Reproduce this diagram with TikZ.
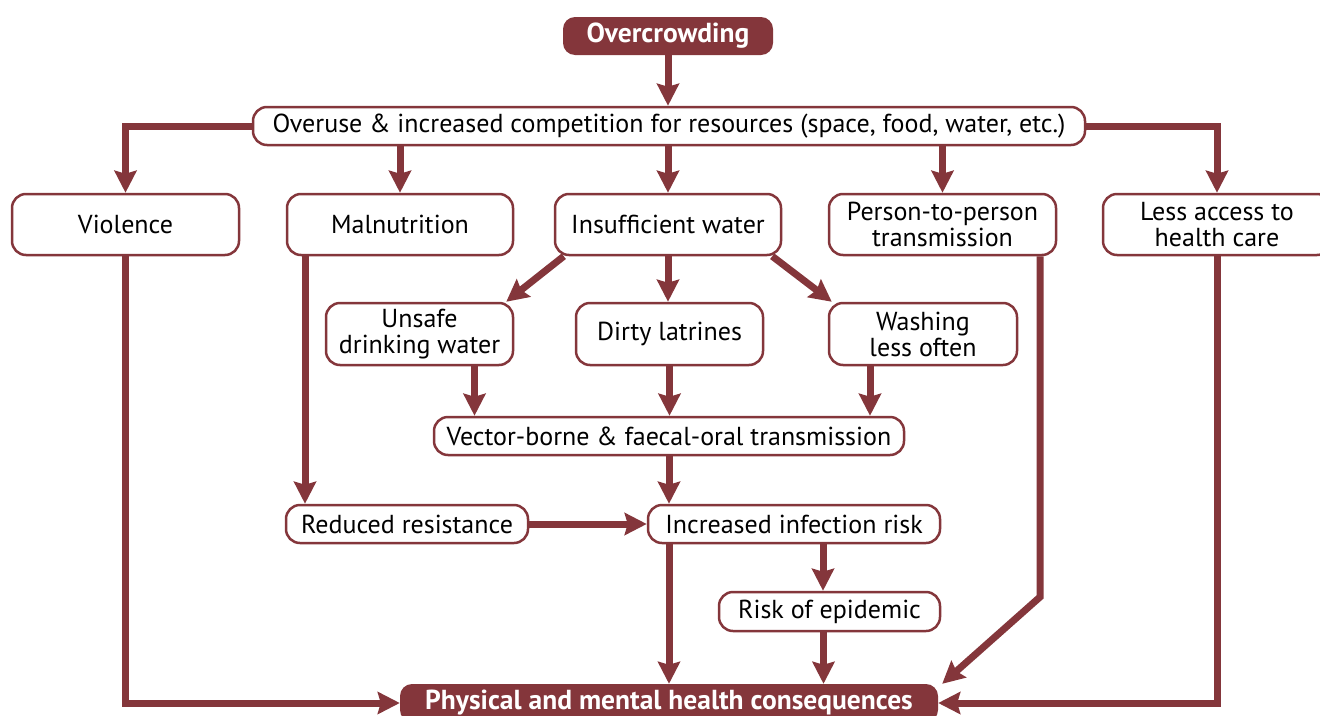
\documentclass[tikz,border=0pt]{standalone}
\usepackage{fontspec}
\setmainfont{PT Sans}
\usetikzlibrary{arrows.meta}
\definecolor{wine}{RGB}{132,54,59}
\tikzset{
  box/.style={draw=wine,line width=2.5pt,fill=white,rounded corners=14pt,align=center,inner sep=0pt,font=\fontsize{26}{26}\selectfont},
  keybox/.style={fill=wine,rounded corners=12pt,text=white,inner sep=0pt,font=\fontsize{27.5}{28}\selectfont\bfseries},
  link/.style={wine,line width=7pt,-{Stealth[length=22pt,width=22pt,inset=3pt]}}
}
\begin{document}
\begin{tikzpicture}[x=1pt,y=-1pt]
\clip (0,0) rectangle (1320,715);
\node[keybox,minimum width=210pt,minimum height=38pt] (crowd) at (668,36) {Overcrowding};
\node[box,minimum width=832pt,minimum height=38pt] (over) at (669,126) {Overuse \& increased competition for resources (space, food, water, etc.)};
\node[box,minimum width=227pt,minimum height=61pt] (viol) at (125.5,224.5) {Violence};
\node[box,minimum width=226pt,minimum height=61pt] (maln) at (400,224.5) {Malnutrition};
\node[box,minimum width=226pt,minimum height=61pt] (insw) at (668,224.5) {Insufficient water};
\node[box,minimum width=227pt,minimum height=61pt] (pers) at (942.5,224.5) {Person-to-person\\transmission};
\node[box,minimum width=228pt,minimum height=61pt] (less) at (1217,224.5) {Less access to\\health care};
\node[box,minimum width=187pt,minimum height=62pt] (unsafe) at (419.5,334) {Unsafe\\drinking water};
\node[box,minimum width=187pt,minimum height=62pt] (dirty) at (669.5,334) {Dirty latrines};
\node[box,minimum width=188pt,minimum height=62pt] (wash) at (923,334) {Washing\\less often};
\node[box,minimum width=470pt,minimum height=38pt] (vect) at (669,436) {Vector-borne \& faecal-oral transmission};
\node[box,minimum width=242pt,minimum height=38pt] (redr) at (407,524) {Reduced resistance};
\node[box,minimum width=292pt,minimum height=38pt] (incr) at (794,524) {Increased infection risk};
\node[box,minimum width=221pt,minimum height=39pt] (epid) at (829.5,611.5) {Risk of epidemic};
\node[keybox,minimum width=538pt,minimum height=38pt] (phys) at (669,703) {Physical and mental health consequences};
\coordinate (bend) at (1040,597);
\draw[link] (crowd.south) -- (crowd.south |- over.north);
\draw[link] (over.west) -| (viol.north);
\draw[link] (over.south -| maln) -- (maln.north);
\draw[link] (over.south -| insw) -- (insw.north);
\draw[link] (over.south -| pers) -- (pers.north);
\draw[link] (over.east) -| (less.north);
\draw[link] ([xshift=10pt]insw.south west) -- ([xshift=-8pt]unsafe.north east);
\draw[link] (insw.south) -- (insw.south |- dirty.north);
\draw[link] ([xshift=-10pt]insw.south east) -- ([xshift=4pt]wash.north west);
\draw[link] ([xshift=55pt]unsafe.south) -- ([xshift=55pt]unsafe.south |- vect.north);
\draw[link] (dirty.south) -- (dirty.south |- vect.north);
\draw[link] ([xshift=-53pt]wash.south) -- ([xshift=-53pt]wash.south |- vect.north);
\draw[link] ([xshift=-95pt]maln.south) -- ([xshift=-95pt]maln.south |- redr.north);
\draw[link] (vect.south) -- (vect.south |- incr.north);
\draw[link] (redr.east) -- (incr.west);
\draw[link] ([xshift=29pt]incr.south) -- ([xshift=29pt]incr.south |- epid.north);
\draw[link] (incr.south -| vect) -- (vect |- phys.north);
\draw[link] ([xshift=-6pt]epid.south) -- ([xshift=-6pt]epid.south |- phys.north);
\draw[link] (viol.south) |- (phys.west);
\draw[link] (less.south) |- (phys.east);
\draw[link] (pers.south -| bend) -- (bend) -- ([xshift=4pt]phys.north east);
\end{tikzpicture}
\end{document}
